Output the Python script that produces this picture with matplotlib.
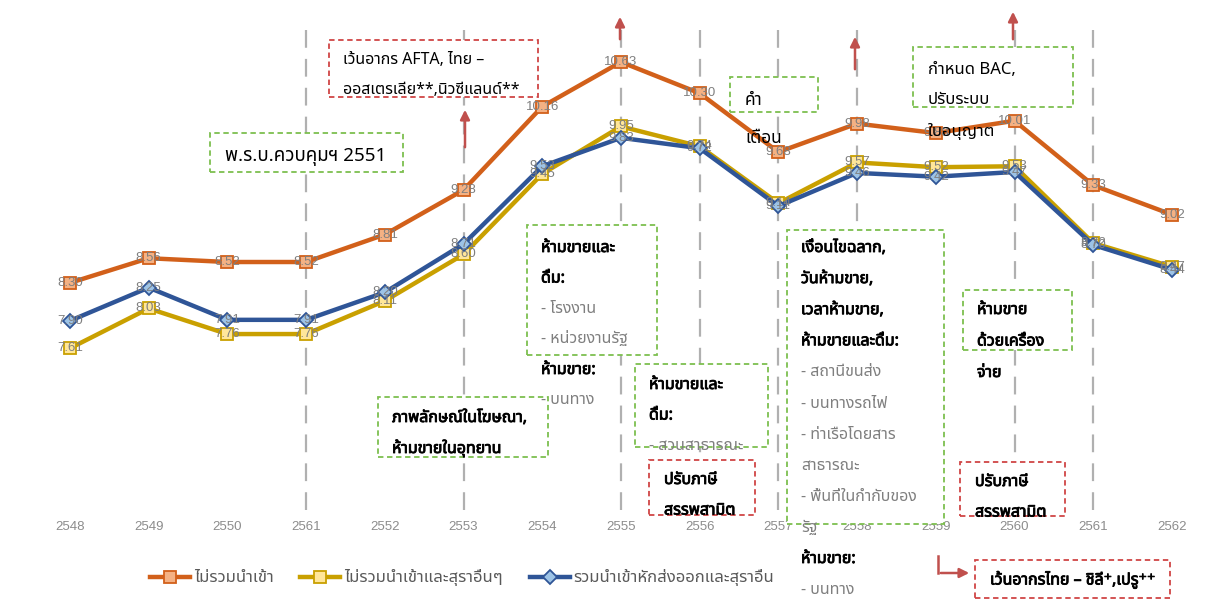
import matplotlib
matplotlib.use("Agg")
import matplotlib.pyplot as plt
import matplotlib.patheffects as pe
from matplotlib import font_manager
from matplotlib.ft2font import FT2Font
from matplotlib.patches import Rectangle, FancyArrowPatch
from matplotlib.lines import Line2D

# ---- data ----
years = ["2548", "2549", "2550", "2561", "2552", "2553", "2554", "2555",
         "2556", "2557", "2558", "2559", "2560", "2561", "2562"]
no_import = [8.30, 8.56, 8.52, 8.52, 8.81, 9.28, 10.16, 10.63, 10.30, 9.68,
             9.98, 9.88, 10.01, 9.33, 9.02]
no_import_other = [7.61, 8.03, 7.76, 7.76, 8.11, 8.60, 9.45, 9.95, 9.74, 9.14,
                   9.57, 9.52, 9.53, 8.72, 8.47]
net_import = [7.90, 8.25, 7.91, 7.91, 8.20, 8.71, 9.53, 9.83, 9.72, 9.11,
              9.46, 9.42, 9.47, 8.70, 8.44]
series_names = ["ไม่รวมนำเข้า", "ไม่รวมนำเข้าและสุราอื่นๆ", "รวมนำเข้าหักส่งออกและสุราอื่น"]
policy_years = [3, 5, 7, 8, 9, 10, 12, 13]   # dashed markers


# ---- fonts ----
def thai_families():
    found = []
    for f in font_manager.fontManager.ttflist:
        if f.name in found:
            continue
        try:
            if 0x0E01 in FT2Font(f.fname).get_charmap():
                found.append(f.name)
        except Exception:
            pass
    found.sort(key=lambda n: (0 if n == "Noto Sans Thai" else 1 if "Sans" in n else 2,
                              "Looped" in n, n))
    return found


installed = {f.name for f in font_manager.fontManager.ttflist}
TH = thai_families()[:1] + ["DejaVu Sans"]
NUM = [n for n in ["Liberation Sans Narrow", "Liberation Sans"] if n in installed][:1] + ["DejaVu Sans"]
plt.rcParams["font.family"] = TH

W, H = 1226, 605
fig = plt.figure(figsize=(W / 100, H / 100), dpi=100)
# axes from px 10..1216 horizontally, 20..510 vertically
ax = fig.add_axes([10 / W, 1 - 510 / H, 1206 / W, 490 / H])
ax.set_xlim(-0.762, 14.56)
ax.set_ylim(5.904, 11.073)
for s in ax.spines.values():
    s.set_visible(False)
ax.set_yticks([])
x = list(range(len(years)))
ax.set_xticks(x)
ax.set_xticklabels(years, color="#8c8c8c", fontsize=9.5, family=NUM)
ax.tick_params(axis="x", length=0, pad=8)

for i in policy_years:
    ax.axvline(i, color="#b0b0b0", lw=1.6, ls=(0, (8, 5)), zorder=1)

orange, yellow, blue = "#D2601A", "#C9A000", "#2F5597"
l1, = ax.plot(x, no_import, color=orange, lw=3.2, marker="s", ms=9,
              mfc="#F4B183", mec=orange, mew=1.3, zorder=3)
l2, = ax.plot(x, no_import_other, color=yellow, lw=3.2, marker="s", ms=9,
              mfc="#FFE699", mec=yellow, mew=1.3, zorder=3)
l3, = ax.plot(x, net_import, color=blue, lw=3.2, marker="D", ms=7,
              mfc="#9DC3E6", mec=blue, mew=1.3, zorder=3)

for vals in (no_import, no_import_other, net_import):
    for i, v in zip(x, vals):
        ax.text(i, v, f"{v:.2f}", ha="center", va="center", fontsize=9.5,
                color="#7f7f7f", family=NUM, zorder=5)


# ---- annotations (pixel positions from top-left) ----
T = fig.transFigure
BOLD = [pe.withStroke(linewidth=0.6, foreground="black")]


def fxy(px, py):
    return px / W, 1 - py / H


def box(x0, y0, x1, y1, color):
    ax.add_patch(Rectangle(fxy(x0, y1), (x1 - x0) / W, (y1 - y0) / H,
                           transform=T, facecolor="white", edgecolor=color,
                           lw=1.3, ls=(0, (3, 2)), zorder=2, clip_on=False))


def lines(px, py, rows, step=30.5, size=11.5):
    for k, (txt, style) in enumerate(rows):
        kw = dict(color="black")
        if style == "b":
            kw = dict(color="black", path_effects=BOLD)
        elif style == "g":
            kw = dict(color="#7f7f7f")
        ax.text(*fxy(px, py + k * step), txt, transform=T, ha="left",
                va="center", fontsize=size, zorder=6, clip_on=False, **kw)


def arrow(px, y_from, y_to):
    ax.add_patch(FancyArrowPatch(fxy(px, y_from), fxy(px, y_to), transform=T,
                                 arrowstyle="-|>", mutation_scale=14,
                                 color="#C0504D", lw=1.8, zorder=4, clip_on=False))


GREEN, RED = "#7DBF4F", "#D04545"

box(329, 40, 538, 97, RED)
lines(343, 60, [("เว้นอากร AFTA, ไทย –", "n"), ("ออสเตรเลีย**,นิวซีแลนด์**", "n")])

box(210, 133, 403, 172, GREEN)
lines(225, 157, [("พ.ร.บ.ควบคุมฯ 2551", "n")], size=13.5)

box(730, 77, 818, 112, GREEN)
lines(745, 100, [("คำ", "n"), ("เตือน", "n")], step=38, size=12.5)

box(913, 47, 1073, 107, GREEN)
lines(928, 70, [("กำหนด BAC,", "n"), ("ปรับระบบ", "n"), ("ใบอนุญาต", "n")], size=12)

box(527, 225, 657, 355, GREEN)
lines(541, 248, [("ห้ามขายและ", "b"), ("ดื่ม:", "b"), ("- โรงงาน", "g"),
                 ("- หน่วยงานรัฐ", "g"), ("ห้ามขาย:", "b"), ("- บนทาง", "g")])

box(378, 397, 548, 457, GREEN)
lines(392, 418, [("ภาพลักษณ์ในโฆษณา,", "b"), ("ห้ามขายในอุทยาน", "b")])

box(635, 364, 768, 447, GREEN)
lines(649, 385, [("ห้ามขายและ", "b"), ("ดื่ม:", "b"), ("- สวนสาธารณะ", "g")])

box(649, 460, 755, 515, RED)
lines(664, 480, [("ปรับภาษี", "b"), ("สรรพสามิต", "b")])

box(787, 230, 944, 524, GREEN)
lines(801, 248, [("เงื่อนไขฉลาก,", "b"), ("วันห้ามขาย,", "b"), ("เวลาห้ามขาย,", "b"),
                 ("ห้ามขายและดื่ม:", "b"), ("- สถานีขนส่ง", "g"), ("- บนทางรถไฟ", "g"),
                 ("- ท่าเรือโดยสาร", "g"), ("สาธารณะ", "g"), ("- พื้นที่ในกำกับของ", "g"),
                 ("รัฐ", "g"), ("ห้ามขาย:", "b"), ("- บนทาง", "g")], step=31.1)

box(963, 290, 1072, 350, GREEN)
lines(977, 310, [("ห้ามขาย", "b"), ("ด้วยเครื่อง", "b"), ("จ่าย", "b")], step=31.5)

box(960, 462, 1065, 516, RED)
lines(975, 482, [("ปรับภาษี", "b"), ("สรรพสามิต", "b")])

box(975, 560, 1170, 598, RED)
lines(990, 580, [("เว้นอากรไทย – ชิลี⁺,เปรู⁺⁺", "b")])

arrow(465, 150, 107)
arrow(620, 42, 14)
arrow(855, 72, 34)
arrow(1013, 42, 9)

ax.add_line(Line2D([938 / W, 938 / W], [1 - 556 / H, 1 - 573 / H], transform=T,
                   color="#C0504D", lw=1.8, zorder=4, clip_on=False))
ax.add_patch(FancyArrowPatch(fxy(938, 573), fxy(972, 573), transform=T,
                             arrowstyle="-|>", mutation_scale=14,
                             color="#C0504D", lw=1.8, zorder=4, clip_on=False))

fig.legend([l1, l2, l3], series_names, loc="center", ncol=3, frameon=False,
           bbox_to_anchor=(462 / W, 1 - 578 / H), fontsize=12,
           labelcolor="#595959", handlelength=2.4, handletextpad=0.25,
           columnspacing=1.6)

fig.savefig("out.png", dpi=100)
